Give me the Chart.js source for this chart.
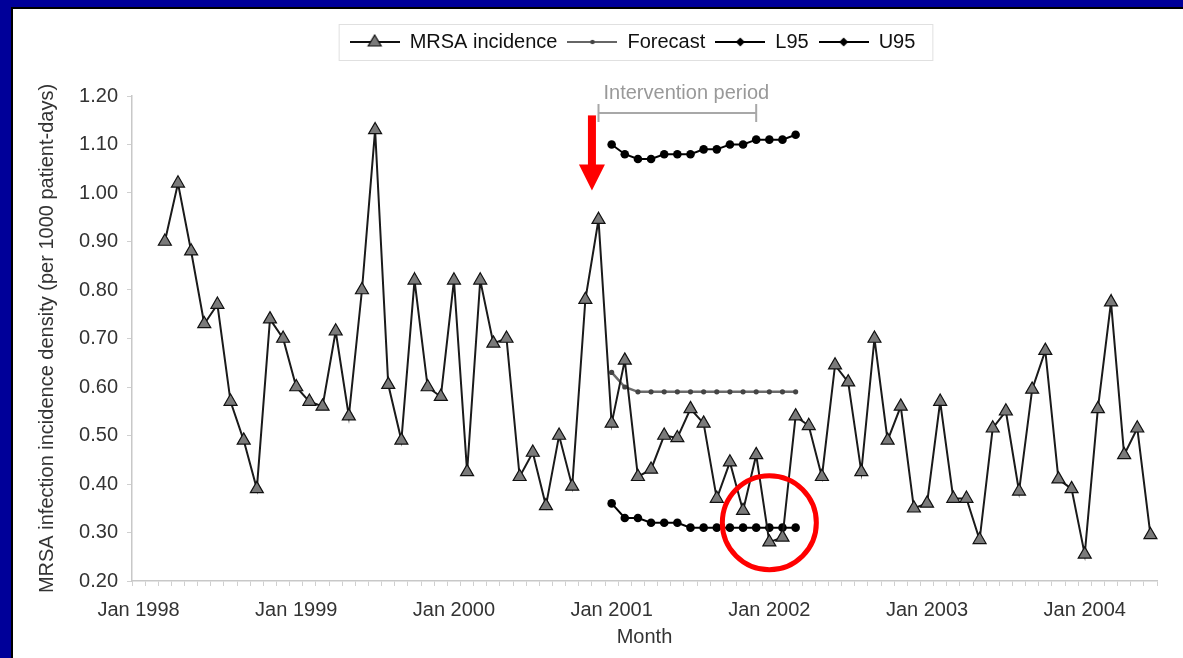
<!DOCTYPE html>
<html>
<head>
<meta charset="utf-8">
<title>MRSA incidence</title>
<script src="https://cdn.jsdelivr.net/npm/chart.js@4.4.1/dist/chart.umd.min.js"></script>
<style>
html, body { margin: 0; padding: 0; width: 1183px; height: 658px; overflow: hidden; background: #000099; }
#panel { position: absolute; left: 11px; top: 7px; right: 0; bottom: 0; background: #fff; border-left: 2px solid #000; border-top: 2px solid #000; }
#chart { position: absolute; left: 0; top: 0; }
</style>
</head>
<body>
<div id="panel"></div>
<canvas id="chart" width="1183" height="658"></canvas>
<script>
////////////////////////////////////////////////////////////////////////
// Data
const monthNames = ['Jan', 'Feb', 'Mar', 'Apr', 'May', 'Jun', 'Jul', 'Aug', 'Sep', 'Oct', 'Nov', 'Dec']
const years = [1998, 1999, 2000, 2001, 2002, 2003, 2004]
const lastMonth = 'Jun 2004'

// MRSA incidence from Mar 1998 to Jun 2004
const mrsaStart = 'Mar 1998'
const mrsa = [
    0.90, 1.02, 0.88, 0.73, 0.77, 0.57, 0.49, 0.39, 0.74, 0.70,
    0.60, 0.57, 0.56, 0.715, 0.54, 0.80, 1.13, 0.605, 0.49, 0.82, 0.60, 0.58,
    0.82, 0.425, 0.82, 0.69, 0.70, 0.415, 0.465, 0.355, 0.50, 0.395, 0.78, 0.945,
    0.525, 0.655, 0.415, 0.43, 0.50, 0.495, 0.555, 0.525, 0.37, 0.445, 0.345, 0.46,
    0.28, 0.29, 0.54, 0.52, 0.415, 0.645, 0.61, 0.425, 0.70, 0.49, 0.56, 0.35,
    0.36, 0.57, 0.37, 0.37, 0.285, 0.515, 0.55, 0.385, 0.595, 0.675, 0.41, 0.39,
    0.255, 0.555, 0.775, 0.46, 0.515, 0.295
]

// Forecast with 95% limits, Jan 2001 to Mar 2002
const forecastStart = 'Jan 2001'
const forecast = [0.63, 0.60, 0.59, 0.59, 0.59, 0.59, 0.59, 0.59, 0.59, 0.59, 0.59, 0.59, 0.59, 0.59, 0.59]
const l95 = [0.36, 0.33, 0.33, 0.32, 0.32, 0.32, 0.31, 0.31, 0.31, 0.31, 0.31, 0.31, 0.31, 0.31, 0.31]
const u95 = [1.10, 1.08, 1.07, 1.07, 1.08, 1.08, 1.08, 1.09, 1.09, 1.10, 1.10, 1.11, 1.11, 1.11, 1.12]

// Annotations
const interventionStart = 'Dec 2000'
const interventionEnd = 'Dec 2001'
const circledMonth = 'Jan 2002'
const circledValue = 0.32

////////////////////////////////////////////////////////////////////////
// Helpers
const months = []
years.forEach(y => monthNames.forEach(m => months.push(m + ' ' + y)))
months.length = months.indexOf(lastMonth) + 1

function place(values, start) {
    const out = months.map(() => null)
    const i0 = months.indexOf(start)
    values.forEach((v, i) => { out[i0 + i] = v })
    return out
}

/**
 * Small line + marker picture used as legend symbol
 */
function legendIcon(marker, lineColor) {
    const w = 50
    const m = w / 2
    const c = document.createElement('canvas')
    c.width = w
    c.height = 16
    const ctx = c.getContext('2d')
    ctx.strokeStyle = lineColor
    ctx.lineWidth = 2
    ctx.beginPath()
    ctx.moveTo(0, 8)
    ctx.lineTo(w, 8)
    ctx.stroke()
    ctx.beginPath()
    if (marker === 'triangle') {
        ctx.moveTo(m, 1)
        ctx.lineTo(m + 6.5, 12)
        ctx.lineTo(m - 6.5, 12)
        ctx.closePath()
        ctx.fillStyle = '#7a7a7a'
        ctx.fill()
        ctx.strokeStyle = '#111'
        ctx.lineWidth = 1.2
        ctx.stroke()
    } else if (marker === 'dot') {
        ctx.arc(m, 8, 2.2, 0, Math.PI * 2)
        ctx.fillStyle = '#444'
        ctx.fill()
    } else {
        ctx.moveTo(m, 3.5)
        ctx.lineTo(m + 4.5, 8)
        ctx.lineTo(m, 12.5)
        ctx.lineTo(m - 4.5, 8)
        ctx.closePath()
        ctx.fillStyle = '#000'
        ctx.fill()
    }
    return c
}

const icons = [
    legendIcon('triangle', '#111'),
    legendIcon('dot', '#666'),
    legendIcon('diamond', '#000'),
    legendIcon('diamond', '#000')
]

////////////////////////////////////////////////////////////////////////
// Plugins
const legendSpacer = {
    id: 'legendSpacer',
    beforeInit(chart) {
        const fit = chart.legend.fit
        chart.legend.fit = function () {
            fit.bind(chart.legend)()
            this.height += 34
        }
    },
    afterLayout(chart) {
        chart.legend.left -= 12
        chart.legend.right -= 12
    }
}

const annotations = {
    id: 'annotations',
    afterDraw(chart) {
        const ctx = chart.ctx
        const xs = chart.scales.x
        const ys = chart.scales.y
        ctx.save()

        // legend frame
        const boxes = chart.legend.legendHitBoxes
        const l = Math.min(...boxes.map(b => b.left)) - 11
        const r = Math.max(...boxes.map(b => b.left + b.width)) + 17
        const t = boxes[0].top - 8
        const b = boxes[0].top + boxes[0].height + 8
        ctx.strokeStyle = '#e0e0e0'
        ctx.lineWidth = 1
        ctx.strokeRect(l + 0.5, t + 0.5, r - l, b - t)

        // intervention bracket
        const bx0 = xs.getPixelForValue(months.indexOf(interventionStart))
        const bx1 = xs.getPixelForValue(months.indexOf(interventionEnd))
        const by = ys.getPixelForValue(1.165)
        ctx.strokeStyle = '#a8a8a8'
        ctx.lineWidth = 2
        ctx.beginPath()
        ctx.moveTo(bx0, by)
        ctx.lineTo(bx1, by)
        ctx.moveTo(bx0, by - 9)
        ctx.lineTo(bx0, by + 9)
        ctx.moveTo(bx1, by - 9)
        ctx.lineTo(bx1, by + 9)
        ctx.stroke()
        ctx.fillStyle = '#999'
        ctx.font = '20px "Liberation Sans", Arial, sans-serif'
        ctx.textAlign = 'left'
        ctx.textBaseline = 'middle'
        ctx.fillText('Intervention period', bx0 + 5, by - 19)

        // red arrow pointing at the intervention start
        const ax = (xs.getPixelForValue(months.indexOf(interventionStart) - 1) + bx0) / 2
        const aTop = ys.getPixelForValue(1.16)
        const aTip = ys.getPixelForValue(1.005)
        const aNeck = aTip - 26
        ctx.fillStyle = '#ff0000'
        ctx.fillRect(ax - 4, aTop, 8, aNeck - aTop + 1)
        ctx.beginPath()
        ctx.moveTo(ax - 13, aNeck)
        ctx.lineTo(ax + 13, aNeck)
        ctx.lineTo(ax, aTip)
        ctx.closePath()
        ctx.fill()

        // red circle
        ctx.strokeStyle = '#ff0000'
        ctx.lineWidth = 5
        ctx.beginPath()
        ctx.arc(xs.getPixelForValue(months.indexOf(circledMonth)), ys.getPixelForValue(circledValue), 47, 0, Math.PI * 2)
        ctx.stroke()

        ctx.restore()
    }
}

////////////////////////////////////////////////////////////////////////
// Chart
Chart.defaults.font.family = '"Liberation Sans", Arial, sans-serif'
Chart.defaults.font.size = 20
Chart.defaults.color = '#333'

new Chart(document.getElementById('chart'), {
    type: 'line',
    data: {
        labels: months,
        datasets: [
            {
                label: 'MRSA incidence',
                data: place(mrsa, mrsaStart),
                borderColor: '#1a1a1a',
                borderWidth: 2,
                pointStyle: 'triangle',
                pointRadius: 7.5,
                pointBackgroundColor: '#7a7a7a',
                pointBorderColor: '#111',
                pointBorderWidth: 1.2,
                tension: 0
            },
            {
                label: 'Forecast',
                data: place(forecast, forecastStart),
                borderColor: '#6a6a6a',
                borderWidth: 2.5,
                pointStyle: 'circle',
                pointRadius: 2.6,
                pointBackgroundColor: '#444',
                pointBorderWidth: 0,
                tension: 0
            },
            {
                label: 'L95',
                data: place(l95, forecastStart),
                borderColor: '#000',
                borderWidth: 2,
                pointStyle: 'circle',
                pointRadius: 4.3,
                pointBackgroundColor: '#000',
                pointBorderWidth: 0,
                tension: 0
            },
            {
                label: 'U95',
                data: place(u95, forecastStart),
                borderColor: '#000',
                borderWidth: 2,
                pointStyle: 'circle',
                pointRadius: 4.3,
                pointBackgroundColor: '#000',
                pointBorderWidth: 0,
                tension: 0
            }
        ]
    },
    options: {
        responsive: false,
        devicePixelRatio: 1,
        animation: false,
        layout: {
            padding: { left: 31, right: 26, top: 22, bottom: 0 }
        },
        plugins: {
            tooltip: { enabled: false },
            legend: {
                position: 'top',
                fullSize: false,
                labels: {
                    usePointStyle: true,
                    pointStyleWidth: 50,
                    padding: 10,
                    color: '#111',
                    font: { size: 20 },
                    generateLabels(chart) {
                        const items = Chart.defaults.plugins.legend.labels.generateLabels(chart)
                        items.forEach(item => { item.pointStyle = icons[item.datasetIndex] })
                        return items
                    }
                }
            }
        },
        scales: {
            x: {
                type: 'category',
                offset: true,
                grid: {
                    offset: true,
                    drawOnChartArea: false,
                    drawTicks: true,
                    tickLength: 5,
                    color: '#d0d0d0'
                },
                border: { color: '#c8c8c8', width: 1.5 },
                ticks: {
                    autoSkip: false,
                    maxRotation: 0,
                    minRotation: 0,
                    padding: 12,
                    color: '#333',
                    callback(value) {
                        const label = this.getLabelForValue(value)
                        return label.startsWith('Jan') ? label : ''
                    }
                },
                title: {
                    display: true,
                    text: 'Month',
                    color: '#333',
                    font: { size: 20 },
                    padding: { top: 4, bottom: 9 }
                },
                afterFit(scale) {
                    scale.height = 77
                }
            },
            y: {
                min: 0.2,
                max: 1.2,
                grid: {
                    drawOnChartArea: false,
                    drawTicks: true,
                    tickLength: 5,
                    color: '#d0d0d0'
                },
                border: { color: '#c8c8c8', width: 1.5 },
                ticks: {
                    stepSize: 0.1,
                    padding: 9,
                    color: '#333',
                    callback: value => value.toFixed(2)
                },
                title: {
                    display: true,
                    text: 'MRSA infection incidence density (per 1000 patient-days)',
                    color: '#333',
                    font: { size: 20 },
                    padding: { top: 4, bottom: 4 }
                },
                afterFit(scale) {
                    scale.width = 101
                }
            }
        }
    },
    plugins: [legendSpacer, annotations]
})
</script>
</body>
</html>
